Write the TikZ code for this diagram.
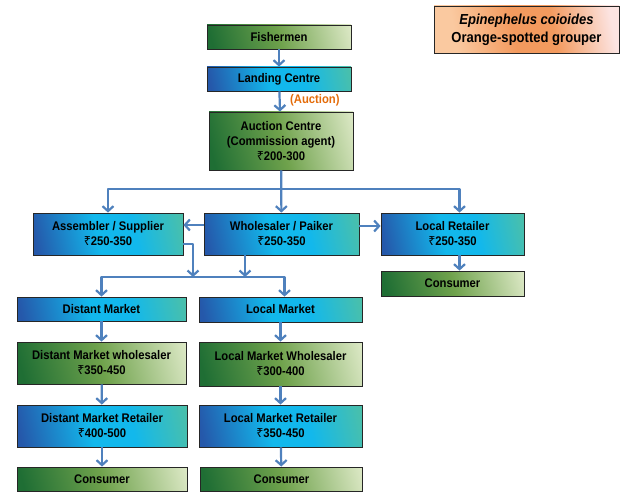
\documentclass[tikz,border=0pt]{standalone}
\usepackage{fontspec}
\setmainfont{Liberation Sans}[FakeStretch=0.9]
\newfontfamily\rupfont{Noto Sans}
\usepackage{tikz}
\usetikzlibrary{arrows.meta}
\definecolor{grnD}{HTML}{1F6E34}
\definecolor{grnM}{HTML}{6FA24C}
\definecolor{grnL}{HTML}{E2ECCC}
\definecolor{bluD}{HTML}{2558AA}
\definecolor{bluM}{HTML}{12B8EC}
\definecolor{bluT}{HTML}{4CC0A8}
\definecolor{lnk}{HTML}{4F81BD}
\definecolor{auc}{HTML}{E46C0A}
\definecolor{orA}{HTML}{FAC9A0}
\definecolor{orB}{HTML}{F39A5E}
\definecolor{orC}{HTML}{FCE4E2}
\newcommand{\rs}{{\rupfont\bfseries ₹}}
\pgfdeclarehorizontalshading{grnsh}{100bp}{color(0bp)=(grnD); color(22bp)=(grnD); color(50bp)=(grnM); color(82bp)=(grnL); color(100bp)=(grnL)}
\pgfdeclarehorizontalshading{blush}{100bp}{color(0bp)=(bluD); color(22bp)=(bluD); color(46bp)=(bluM); color(60bp)=(bluM); color(80bp)=(bluT); color(100bp)=(bluT)}
\pgfdeclarehorizontalshading{orsh}{100bp}{color(0bp)=(orA); color(28bp)=(orA); color(46bp)=(orB); color(58bp)=(orB); color(76bp)=(orC); color(100bp)=(orC)}

\begin{document}
\begin{tikzpicture}[x=1pt,y=1pt]
	\tikzstyle{every node}+=[inner sep=0pt, font=\fontsize{12.5}{15}\selectfont\bfseries, align=center]
	\tikzstyle{basebox}=[draw=black!85, line width=0.8pt, rectangle]
	\tikzstyle{grnbox}=[basebox, shading=grnsh, shading angle=15]
	\tikzstyle{blubox}=[basebox, shading=blush, shading angle=12]
	\tikzstyle{titlebox}=[basebox, shading=orsh, shading angle=10]
	\tikzstyle{link}=[draw=lnk, line width=2.2pt, line join=round, -{Straight Barb[length=5pt,width=11pt]}]
	\useasboundingbox (0,0) rectangle (621,-492);
	\node[titlebox, minimum width=185, minimum height=47, font=\fontsize{14.5}{18}\selectfont\bfseries] (title) at (526.5,-29.5) {\textit{Epinephelus coioides}\\Orange-spotted grouper};
	\node[grnbox, minimum width=144, minimum height=24] (fish) at (279,-37) {Fishermen};
	\node[blubox, minimum width=144, minimum height=24] (land) at (279,-79) {Landing Centre};
	\node[grnbox, minimum width=144, minimum height=58] (auct) at (281,-141) {Auction Centre\\(Commission agent)\\\rs200-300};
	\node[blubox, minimum width=150, minimum height=42] (asm) at (108,-234) {Assembler / Supplier\\\rs250-350};
	\node[blubox, minimum width=155, minimum height=42] (whole) at (281.5,-234) {Wholesaler / Paiker\\\rs250-350};
	\node[blubox, minimum width=143, minimum height=42] (lret) at (452.5,-234) {Local Retailer\\\rs250-350};
	\node[grnbox, minimum width=143, minimum height=25] (cons3) at (452.5,-283.5) {Consumer};
	\node[blubox, minimum width=169, minimum height=24] (dm) at (101.5,-309) {Distant Market};
	\node[blubox, minimum width=163, minimum height=25] (lm) at (280.5,-309.5) {Local Market};
	\node[grnbox, minimum width=169, minimum height=42] (dmw) at (101.5,-363) {Distant Market wholesaler\\\rs350-450};
	\node[grnbox, minimum width=163, minimum height=44] (lmw) at (280.5,-364) {Local Market Wholesaler\\\rs300-400};
	\node[blubox, minimum width=170, minimum height=42] (dmr) at (102,-426) {Distant Market Retailer\\\rs400-500};
	\node[blubox, minimum width=163, minimum height=42] (lmr) at (280.5,-426) {Local Market Retailer\\\rs350-450};
	\node[grnbox, minimum width=170, minimum height=24] (cons1) at (102,-479) {Consumer};
	\node[grnbox, minimum width=162, minimum height=24] (cons2) at (281.5,-479) {Consumer};
	\node[text=auc, anchor=west] (auclbl) at (290,-100) {(Auction)};
	\draw[link] (fish) -- (land);
	\draw[link] (land) -- (auct);
	\draw[link] (auct) -- (whole);
	\coordinate (top) at (281,-189);
	\draw[link] (top) -| (asm.north);
	\draw[link] (top) -| ([xshift=7pt]lret.north);
	\draw[link] ([yshift=9pt]whole.west) -- ([yshift=9pt]asm.east);
	\draw[link] ([yshift=8pt]whole.east) -- ([yshift=8pt]lret.west);
	\draw[link] ([xshift=7pt]lret.south) -- ([xshift=7pt]cons3.north);
	\coordinate (mA) at (193,-277);
	\coordinate (mB) at (245,-277);
	\draw[link] ([yshift=-10pt]asm.east) -| (mA);
	\draw[link] (whole.south -| mB) -- (mB);
	\draw[link] (mB) -| (dm.north);
	\draw[link] (mA) -| ([xshift=4pt]lm.north);
	\draw[link] (dm) -- (dmw);
	\draw[link] (dmw) -- (dmr);
	\draw[link] (dmr) -- (cons1);
	\draw[link] (lm) -- (lmw);
	\draw[link] (lmw) -- (lmr);
	\draw[link] (lmr) -- (cons2);
\end{tikzpicture}
\end{document}
